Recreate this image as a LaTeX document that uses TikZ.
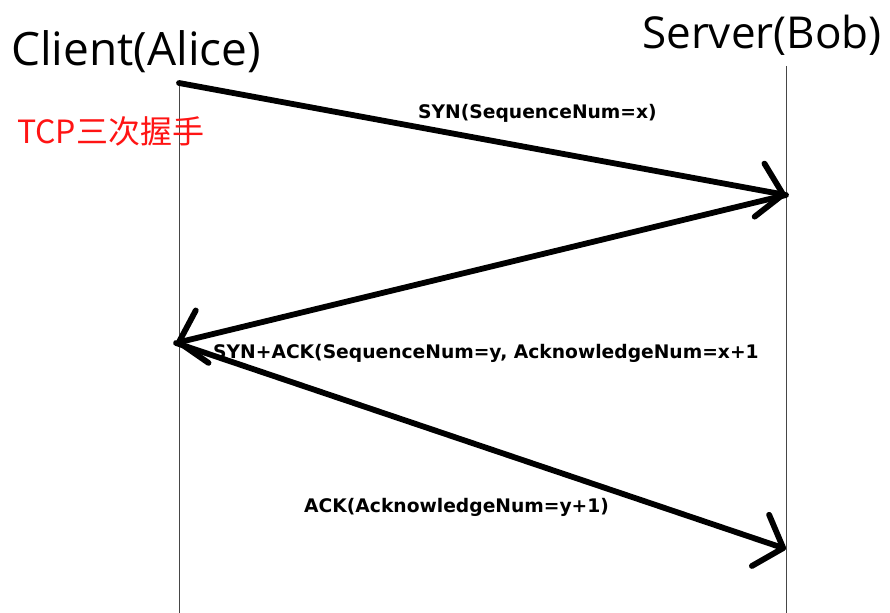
\documentclass[tikz,border=0pt]{standalone}
\usepackage{fontspec}
\setmainfont{Open Sans}
\newfontfamily\labfont{DejaVu Sans}
\newfontfamily\cjk{Noto Sans CJK SC}
\usetikzlibrary{arrows.meta}
\definecolor{lifegray}{RGB}{70,70,70}
\definecolor{tcpred}{RGB}{255,20,20}
\tikzset{
  lifeline/.style={draw=lifegray, line width=1bp},
  msg/.style={draw=black, line width=5.8bp, line cap=round,
    -{Straight Barb[length=24bp,width=54bp,line width=5.8bp,round]}},
  actor/.style={inner sep=0, anchor=west},
  msglabel/.style={inner sep=0, anchor=west, font=\labfont\bfseries\fontsize{18.7bp}{22bp}\selectfont},
}
\begin{document}
\begin{tikzpicture}[x=1bp,y=-1bp]
\useasboundingbox[fill=white] (0,0) rectangle (890,613);
% lifelines
\coordinate (ctop) at (179,83);
\coordinate (cbot) at (179,613);
\coordinate (stop) at (786,66);
\coordinate (sbot) at (786,613);
\draw[lifeline] (ctop) -- (cbot);
\draw[lifeline] (stop) -- (sbot);
% message points
\coordinate (m1s) at (179,83);
\coordinate (m1e) at (786,195);
\coordinate (m2e) at (176,343);
\coordinate (m3e) at (786,549);
\draw[msg] (m1s) -- (m1e);
\draw[msg] (m1e) -- (m2e);
\draw[msg] (m2e) -- (m3e);
% titles
\node[actor, font=\fontsize{46bp}{50bp}\selectfont] (client) at (11,52) {Client(Alice)};
\node[actor, font=\fontsize{44bp}{50bp}\selectfont] (server) at (642,35) {Server(Bob)};
\node[inner sep=0, anchor=west, text=tcpred, font=\cjk\fontsize{32bp}{36bp}\selectfont] (tcp) at (17,131) {TCP三次握手};
% labels
\node[msglabel] (l1) at (418,113) {SYN(SequenceNum=x)};
\node[msglabel] (l2) at (213,353) {SYN+ACK(SequenceNum=y, AcknowledgeNum=x+1};
\node[msglabel] (l3) at (304,507) {ACK(AcknowledgeNum=y+1)};
\end{tikzpicture}
\end{document}
